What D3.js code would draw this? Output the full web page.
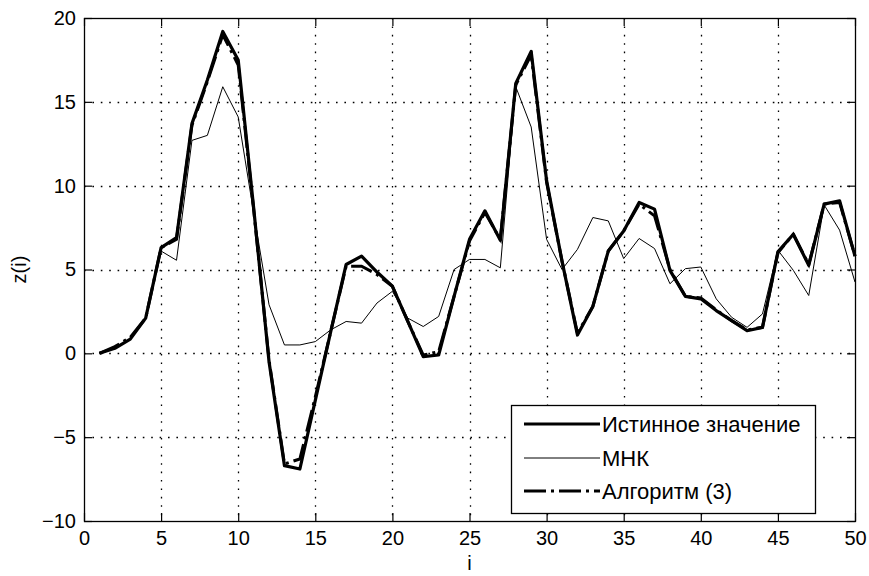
<!DOCTYPE html>
<html>
<head>
<meta charset="utf-8">
<script src="https://cdn.jsdelivr.net/npm/d3@7"></script>
<style>
  html, body { margin: 0; padding: 0; background: #fff; }
  svg { display: block; font-family: "Liberation Sans", Arial, Helvetica, sans-serif; }
</style>
</head>
<body>
<svg id="chart" width="869" height="576"></svg>
<script>
// ---- data ----
const idx = d3.range(1, 51);
const trueValues = [
  0, 0.3, 0.85, 2.1, 6.3, 6.9, 13.7, 16.3, 19.2, 17.5,
  8.7, -0.5, -6.7, -6.9, -2.8, 1.3, 5.3, 5.8, 4.85, 4.0,
  1.9, -0.2, -0.1, 3.4, 6.8, 8.5, 6.75, 16.1, 18.0, 10.3,
  5.5, 1.1, 2.8, 6.1, 7.3, 9.0, 8.6, 4.95, 3.4, 3.25,
  2.55, 1.95, 1.35, 1.55, 6.05, 7.1, 5.25, 8.9, 9.1, 5.8
];
const mnkValues = [
  0, 0.3, 0.85, 2.1, 6.1, 5.55, 12.7, 13.0, 15.9, 14.1,
  8.4, 2.9, 0.5, 0.5, 0.7, 1.4, 1.9, 1.8, 3.0, 3.7,
  2.1, 1.6, 2.2, 5.0, 5.6, 5.6, 5.1, 15.9, 13.5, 6.8,
  5.0, 6.2, 8.1, 7.9, 5.65, 6.85, 6.25, 4.15, 5.05, 5.15,
  3.25, 2.15, 1.55, 2.35, 6.15, 4.95, 3.45, 8.85, 7.35, 4.25
];
const algValues = [
  0, 0.4, 0.95, 2.1, 6.3, 6.8, 13.6, 16.2, 19.0, 17.2,
  8.6, -0.4, -6.6, -6.3, -2.6, 1.3, 5.2, 5.2, 4.7, 4.0,
  1.9, -0.1, 0.1, 3.4, 6.7, 8.4, 6.8, 16.0, 17.8, 10.2,
  5.5, 1.2, 2.8, 6.1, 7.3, 8.9, 8.2, 5.0, 3.4, 3.3,
  2.6, 1.95, 1.4, 1.55, 6.0, 7.1, 5.3, 8.9, 9.0, 5.8
];
const xTicks = [0, 5, 10, 15, 20, 25, 30, 35, 40, 45, 50];
const yTicks = [-10, -5, 0, 5, 10, 15, 20];
const legendLabels = ["Истинное значение", "МНК", "Алгоритм (3)"];
const xLabel = "i";
const yLabel = "z(i)";

// ---- layout ----
const L = 84, R = 855, T = 18, B = 521;
const svg = d3.select("#chart");
const x = d3.scaleLinear().domain([0, 50]).range([L, R]);
const y = d3.scaleLinear().domain([-10, 20]).range([B, T]);

// grid
const grid = svg.append("g").attr("stroke", "#000").attr("stroke-width", 1.3)
  .attr("stroke-dasharray", "1.6,6.8");
grid.selectAll("line.vx").data(xTicks.slice(1, -1)).enter().append("line")
  .attr("x1", d => Math.round(x(d)) + 0.5).attr("x2", d => Math.round(x(d)) + 0.5)
  .attr("y1", T).attr("y2", B);
grid.selectAll("line.hy").data(yTicks.slice(1, -1)).enter().append("line")
  .attr("y1", d => Math.round(y(d)) + 0.5).attr("y2", d => Math.round(y(d)) + 0.5)
  .attr("x1", L).attr("x2", R);

// axes
const fs = 20;
function styleAxis(g) {
  g.select(".domain").remove();
  g.selectAll(".tick line").attr("stroke", "#000").attr("stroke-width", 1.2);
  g.selectAll("text").attr("font-size", fs).attr("fill", "#000")
    .attr("font-family", "'Liberation Sans', Arial, sans-serif");
}
svg.append("g").attr("transform", `translate(0,${B})`)
  .call(d3.axisBottom(x).tickValues(xTicks).tickSizeInner(-8).tickSizeOuter(0).tickPadding(10))
  .call(styleAxis);
svg.append("g").attr("transform", `translate(0,${T})`)
  .call(d3.axisTop(x).tickValues(xTicks).tickSizeInner(-8).tickSizeOuter(0).tickFormat(""))
  .call(styleAxis);
svg.append("g").attr("transform", `translate(${L},0)`)
  .call(d3.axisLeft(y).tickValues(yTicks).tickSizeInner(-8).tickSizeOuter(0).tickPadding(8))
  .call(styleAxis);
svg.append("g").attr("transform", `translate(${R},0)`)
  .call(d3.axisRight(y).tickValues(yTicks).tickSizeInner(-8).tickSizeOuter(0).tickFormat(""))
  .call(styleAxis);

// box
svg.append("rect").attr("x", L + 0.5).attr("y", T + 0.5)
  .attr("width", R - L).attr("height", B - T)
  .attr("fill", "none").attr("stroke", "#000").attr("stroke-width", 1.3);

// series
const line = d3.line().x((d, i) => x(idx[i])).y(d => y(d));
const plot = svg.append("g");
plot.append("path").datum(trueValues).attr("d", line)
  .attr("fill", "none").attr("stroke", "#000").attr("stroke-width", 3.2).attr("stroke-linejoin", "round");
plot.append("path").datum(mnkValues).attr("d", line)
  .attr("fill", "none").attr("stroke", "#000").attr("stroke-width", 1);
plot.append("path").datum(algValues).attr("d", line)
  .attr("fill", "none").attr("stroke", "#000").attr("stroke-width", 3)
  .attr("stroke-dasharray", "22,5,3,5");

// axis labels
svg.append("text").attr("x", (L + R) / 2).attr("y", 570).attr("text-anchor", "middle")
  .attr("font-size", fs).text(xLabel);
svg.append("text").attr("transform", `translate(26,${(T + B) / 2}) rotate(-90)`)
  .attr("text-anchor", "middle").attr("font-size", fs).text(yLabel);

// legend
const lg = svg.append("g");
lg.append("rect").attr("x", 511.5).attr("y", 405.5).attr("width", 304).attr("height", 108)
  .attr("fill", "#fff").attr("stroke", "#000").attr("stroke-width", 1.3);
const rows = [424, 458, 491];
const styles = [
  { w: 3.2, dash: null },
  { w: 1, dash: null },
  { w: 3, dash: "22,5,3,5" }
];
legendLabels.forEach((lab, k) => {
  lg.append("line").attr("x1", 524).attr("x2", 600).attr("y1", rows[k]).attr("y2", rows[k])
    .attr("stroke", "#000").attr("stroke-width", styles[k].w)
    .attr("stroke-dasharray", styles[k].dash);
  lg.append("text").attr("x", 602).attr("y", rows[k] + 8).attr("font-size", 22).text(lab);
});
</script>
</body>
</html>
